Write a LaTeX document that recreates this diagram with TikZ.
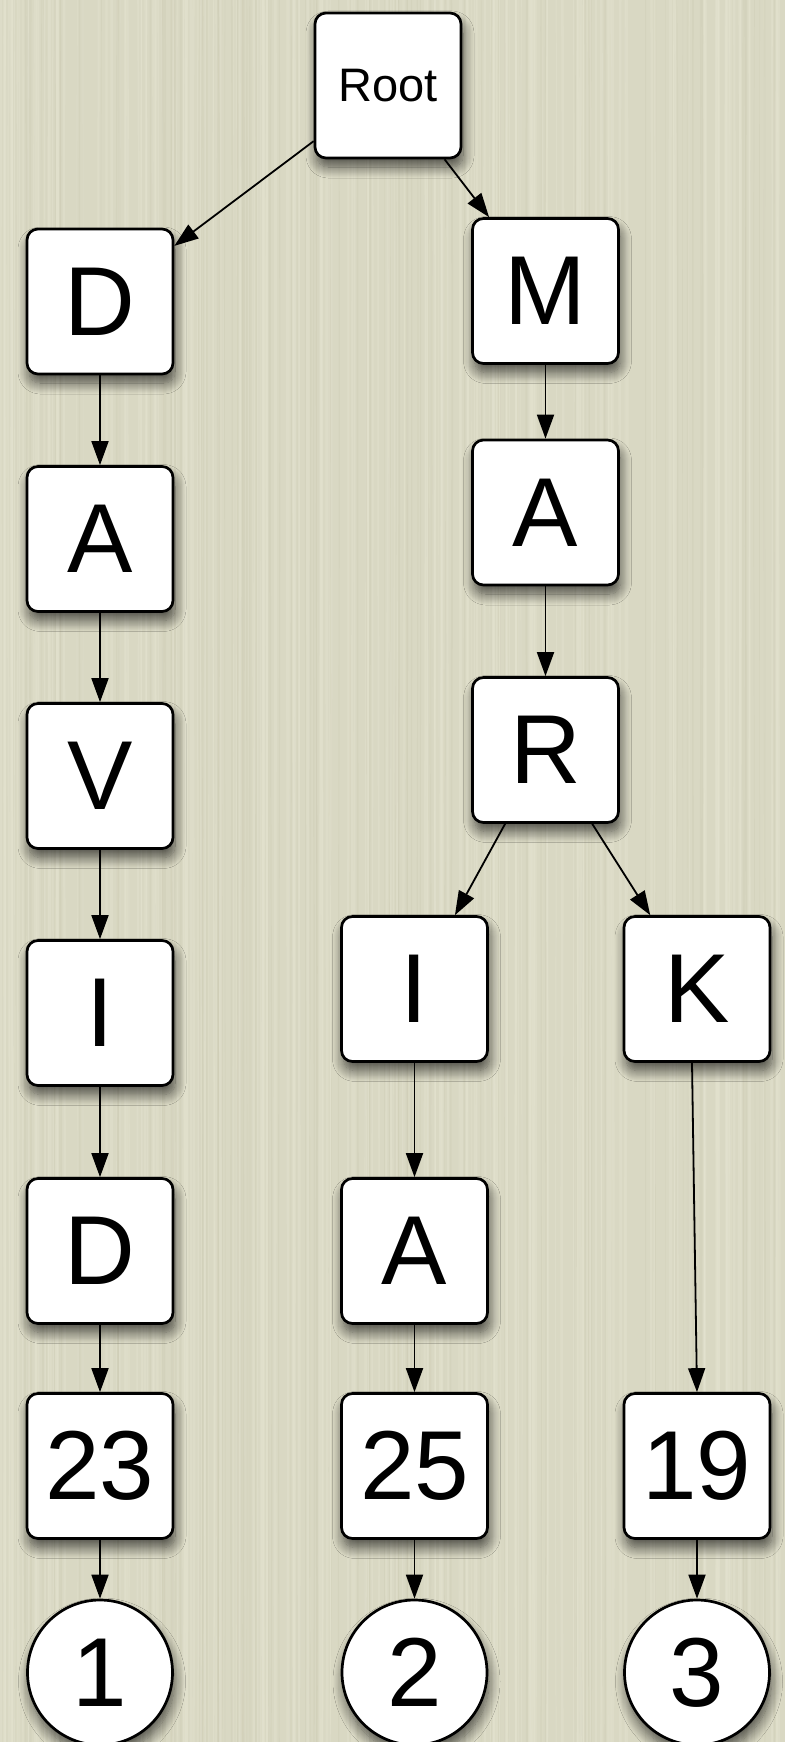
\documentclass[tikz,border=0pt]{standalone}
\usepackage{fontspec}
\setmainfont{Liberation Sans}
\usetikzlibrary{arrows.meta,shadows.blur}
\definecolor{paper}{HTML}{D9D8C3}
\definecolor{paperlight}{HTML}{E4E3D0}
\definecolor{paperdark}{HTML}{CBC9B1}
\tikzset{
  softshadow/.style={blur shadow={shadow xshift=2pt, shadow yshift=-9pt, shadow blur radius=11pt, shadow opacity=65, shadow blur steps=12}},
  keybox/.style={draw=black, line width=2.7pt, fill=white, rounded corners=11pt,
    minimum width=146pt, minimum height=145pt, inner sep=0pt,
    font=\fontsize{98}{98}\selectfont, softshadow},
  rootbox/.style={keybox, font=\fontsize{47}{47}\selectfont},
  leaf/.style={draw=black, line width=2.7pt, fill=white, circle, minimum size=145pt, inner sep=0pt,
    font=\fontsize{98}{98}\selectfont, softshadow},
  link/.style={draw=black, line width=1.8pt, -{Triangle[length=24pt,width=17pt]}}
}
\begin{document}
\begin{tikzpicture}[x=1pt,y=-1pt]
\useasboundingbox (0,0) rectangle (785,1742);
\fill[paper] (0,0) rectangle (785,1742);
\begin{scope}
\clip (0,0) rectangle (785,1742);
\pgfmathsetseed{11}
\foreach \i in {1,...,240}{
  \pgfmathsetmacro\xx{rnd*785}
  \pgfmathsetmacro\ww{0.6+rnd*2.4}
  \pgfmathsetmacro\dd{rnd*6-3}
  \draw[paperlight, opacity=0.45, line width=\ww pt] (\xx,0) .. controls (\xx+\dd,580) and (\xx-\dd,1160) .. (\xx,1742);
}
\foreach \i in {1,...,120}{
  \pgfmathsetmacro\xx{rnd*785}
  \pgfmathsetmacro\ww{0.5+rnd*1.5}
  \pgfmathsetmacro\dd{rnd*6-3}
  \draw[paperdark, opacity=0.3, line width=\ww pt] (\xx,0) .. controls (\xx-\dd,580) and (\xx+\dd,1160) .. (\xx,1742);
}
\end{scope}

\node[rootbox] (root) at (388,85.5) {Root};

\node[keybox] (d1) at (100,301.5) {D};
\node[keybox] (a1) at (100,539) {A};
\node[keybox] (v1) at (100,776) {V};
\node[keybox] (i1) at (100,1013) {I};
\node[keybox] (d2) at (100,1251) {D};
\node[keybox] (n23) at (100,1466) {23};
\node[leaf] (c1) at (100,1672.5) {1};

\node[keybox] (m1) at (545.5,291) {M};
\node[keybox] (a2) at (545.5,512.5) {A};
\node[keybox] (r1) at (545.5,750) {R};
\node[keybox] (i2) at (414.5,989) {I};
\node[keybox] (k1) at (697,989) {K};
\node[keybox] (a3) at (414.5,1251) {A};
\node[keybox] (n25) at (414.5,1466) {25};
\node[keybox] (n19) at (697,1466) {19};
\node[leaf] (c2) at (414.5,1672.5) {2};
\node[leaf] (c3) at (697,1672.5) {3};

\draw[link] (root) -- (d1);
\draw[link] (root) -- (m1);
\draw[link] (d1) -- (a1);
\draw[link] (a1) -- (v1);
\draw[link] (v1) -- (i1);
\draw[link] (i1) -- (d2);
\draw[link] (d2) -- (n23);
\draw[link] (n23) -- (c1);
\draw[link] (m1) -- (a2);
\draw[link] (a2) -- (r1);
\draw[link] (r1) -- (i2);
\draw[link] (r1) -- (k1);
\draw[link] (i2) -- (a3);
\draw[link] (a3) -- (n25);
\draw[link] (n25) -- (c2);
\draw[link] ([xshift=-5pt]k1.south) -- (n19.north);
\draw[link] (n19) -- (c3);
\end{tikzpicture}
\end{document}
